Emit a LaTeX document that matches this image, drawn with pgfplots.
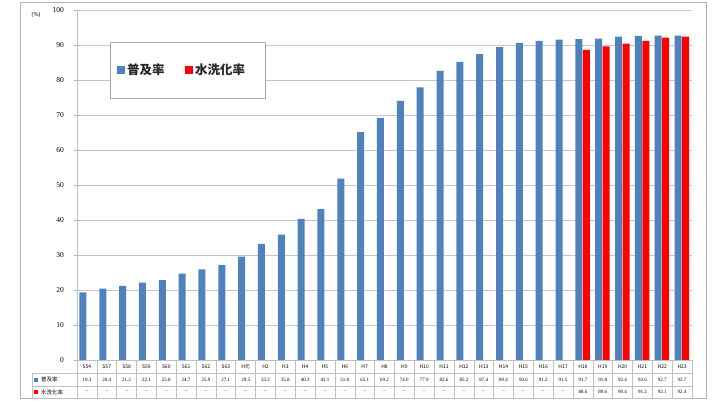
\documentclass[border=0pt]{standalone}
\usepackage{pgfplots}
\pgfplotsset{compat=1.18}
\usepackage{fontspec}
\setmainfont{Liberation Serif}
\newfontfamily\cjk{Noto Sans CJK JP}
\definecolor{cblue}{HTML}{4F81BD}
\definecolor{cred}{HTML}{FF0000}
\begin{document}
\begin{tikzpicture}
\useasboundingbox (0,0) rectangle (716pt,405pt);
\draw[gray!60, line width=1pt] (20pt,7pt) rectangle (706pt,402pt);
\begin{axis}[at={(77pt,45pt)}, anchor=south west, scale only axis,
  width=615pt, height=350pt,
  xmin=-0.5, xmax=30.5, ymin=0, ymax=100,
  ytick={0,10,...,100}, xtick=\empty,
  ymajorgrids, grid style={gray!45, line width=0.7pt},
  axis lines=left, axis line style={-, draw=gray!50},
  major tick length=5pt,
  ytick style={draw=gray!60},
  yticklabel style={font=\fontsize{7.5}{8}\selectfont, xshift=-7pt},
  /pgf/number format/assume math mode=true,
  ybar, bar width=7pt,
]
\addplot[fill=cblue, draw=none, bar shift=-4pt] coordinates {
(0,19.3)(1,20.4)(2,21.2)(3,22.1)(4,22.8)(5,24.7)(6,25.9)(7,27.1)
(8,29.5)(9,33.2)(10,35.8)(11,40.3)(12,43.1)(13,51.8)(14,65.1)(15,69.2)
(16,74.0)(17,77.9)(18,82.6)(19,85.2)(20,87.4)(21,89.4)(22,90.6)(23,91.2)
(24,91.5)(25,91.7)(26,91.8)(27,92.4)(28,92.6)(29,92.7)(30,92.7)};
\addplot[fill=cred, draw=none, bar shift=3.5pt] coordinates {
(25,88.6)(26,89.6)(27,90.4)(28,91.2)(29,92.1)(30,92.4)};
\end{axis}
% (%) label
\node[font=\fontsize{6}{7}\selectfont] at (36pt,390pt) {(\%)};
% legend
\draw[gray!70, fill=white, line width=0.8pt] (110pt,307pt) rectangle (265pt,363pt);
\fill[cblue] (117pt,331pt) rectangle (125pt,339pt);
\node[anchor=west, font=\cjk\fontsize{12.5}{14}\selectfont\bfseries, text=black!85, inner sep=0pt] at (127pt,335pt) {普及率};
\fill[cred] (185pt,331pt) rectangle (193pt,339pt);
\node[anchor=west, font=\cjk\fontsize{12.5}{14}\selectfont\bfseries, text=black!85, inner sep=0pt] at (195pt,335pt) {水洗化率};
% table
\def\cw{19.84}
\draw[gray!50, line width=0.5pt] (77pt,45pt) -- (77pt,7pt);
\draw[gray!50, line width=0.5pt] (32pt,32pt) -- (692pt,32pt);
\draw[gray!50, line width=0.5pt] (32pt,19pt) -- (692pt,19pt);
\draw[gray!50, line width=0.5pt] (32pt,7pt) -- (692pt,7pt);
\draw[gray!50, line width=0.5pt] (32pt,32pt) -- (32pt,7pt);
\foreach \i in {1,...,31} {
  \draw[gray!50, line width=0.5pt] ({(77+\cw*\i)*1pt},45pt) -- ({(77+\cw*\i)*1pt},7pt);
}
\foreach \c [count=\i from 0] in {S54,S57,S58,S59,S60,S61,S62,S63,H元,H2,H3,H4,H5,H6,H7,H8,H9,H10,H11,H12,H13,H14,H15,H16,H17,H18,H19,H20,H21,H22,H23} {
  \node[font=\cjk\fontsize{5}{6}\selectfont, inner sep=0pt] at ({(77+\cw*\i+\cw/2)*1pt},38.5pt) {\c};
}
\foreach \v [count=\i from 0] in {19.3,20.4,21.2,22.1,22.8,24.7,25.9,27.1,29.5,33.2,35.8,40.3,43.1,51.8,65.1,69.2,74.0,77.9,82.6,85.2,87.4,89.4,90.6,91.2,91.5,91.7,91.8,92.4,92.6,92.7,92.7} {
  \node[font=\fontsize{5}{6}\selectfont, inner sep=0pt] at ({(77+\cw*\i+\cw/2)*1pt},25.5pt) {\v};
}
\foreach \v [count=\i from 0] in {–,–,–,–,–,–,–,–,–,–,–,–,–,–,–,–,–,–,–,–,–,–,–,–,–,88.6,89.6,90.4,91.2,92.1,92.4} {
  \node[font=\fontsize{5}{6}\selectfont, inner sep=0pt] at ({(77+\cw*\i+\cw/2)*1pt},13pt) {\v};
}
\fill[cblue] (34pt,23.5pt) rectangle (38pt,27.5pt);
\node[anchor=west, font=\cjk\fontsize{5.5}{6}\selectfont, inner sep=0pt] at (41pt,25.5pt) {普及率};
\fill[cred] (34pt,11pt) rectangle (38pt,15pt);
\node[anchor=west, font=\cjk\fontsize{5.5}{6}\selectfont, inner sep=0pt] at (41pt,13pt) {水洗化率};
\end{tikzpicture}
\end{document}
